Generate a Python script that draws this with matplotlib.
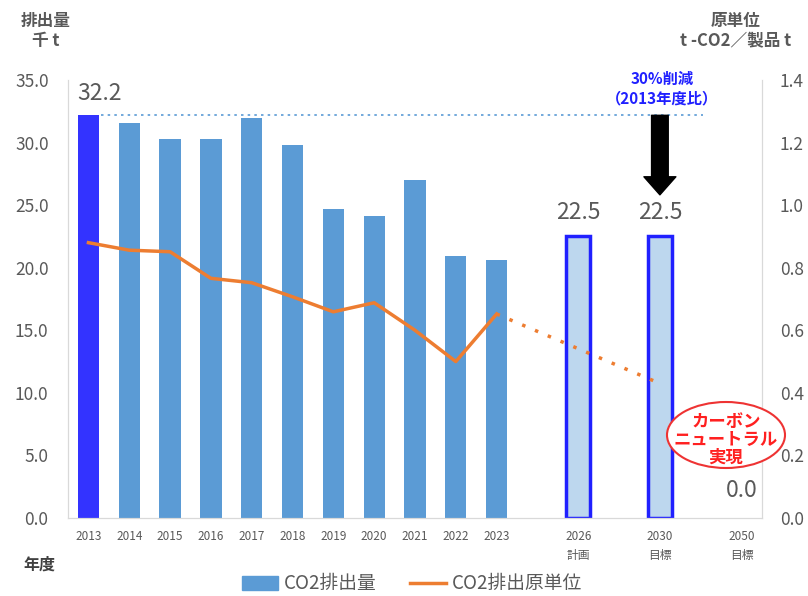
import matplotlib.pyplot as plt
from matplotlib.patches import Ellipse, Patch
from matplotlib.lines import Line2D

plt.rcParams['font.family'] = ['Noto Sans CJK JP', 'DejaVu Sans']

# ---------------------------------------------------------------------
# Data
# ---------------------------------------------------------------------
years = ["2013", "2014", "2015", "2016", "2017", "2018", "2019",
         "2020", "2021", "2022", "2023", "2026\n計画", "2030\n目標", "2050\n目標"]
positions = [0, 1, 2, 3, 4, 5, 6, 7, 8, 9, 10, 12, 14, 16]

emissions = [32.2, 31.6, 30.3, 30.3, 32.0, 29.8, 24.7, 24.1, 27.0, 20.9, 20.6]
target_pos = [12, 14]
target_emissions = [22.5, 22.5]
final_pos = 16
final_emission = 0.0

intensity = [0.88, 0.856, 0.851, 0.766, 0.752, 0.707, 0.659, 0.688, 0.60, 0.50, 0.652]
forecast_pos = [10, 14]
forecast_intensity = [0.652, 0.43]

left_ticks = [0, 5, 10, 15, 20, 25, 30, 35]
right_ticks = [0, 0.2, 0.4, 0.6, 0.8, 1.0, 1.2, 1.4]

grey = "#595959"

# ---------------------------------------------------------------------
# Plot
# ---------------------------------------------------------------------
fig = plt.figure(figsize=(8.08, 5.96), dpi=100)
ax = fig.add_axes([0.0842, 0.1309, 0.8588, 0.7349])
ax2 = ax.twinx()

colors = ["#3333ff"] + ["#5b9bd5"] * (len(emissions) - 1)
ax.bar(positions[:len(emissions)], emissions, width=0.52, color=colors, zorder=2)
ax.bar(target_pos, target_emissions, width=0.58, color="#bdd7ee",
       edgecolor="#2020ff", linewidth=2.5, zorder=2)

# reference line at 2013 level
ax.plot([0.3, 15.05], [emissions[0], emissions[0]], linestyle=(0, (1.5, 2.5)),
        color="#5b9bd5", linewidth=1.2, zorder=1)

ax.text(0.27, 33.0, f"{emissions[0]:.1f}", ha="center", va="bottom", fontsize=16.5, color=grey)
for p, v in zip(target_pos, target_emissions):
    ax.text(p, v + 1.0, f"{v:.1f}", ha="center", va="bottom", fontsize=16.5, color=grey)
ax.text(final_pos, final_emission + 2.2, f"{final_emission:.1f}", ha="center", va="center",
        fontsize=16.5, color=grey, zorder=7)

ax2.plot(positions[:len(intensity)], intensity, color="#ed7d31", linewidth=2.5, zorder=3)
ax2.plot(forecast_pos, forecast_intensity, color="#ed7d31", linewidth=2.5,
         linestyle=(0, (1, 3)), zorder=3)

ax.set_xlim(-0.5, 16.5)
ax.set_ylim(0, 35)
ax2.set_ylim(0, 1.4)
ax.set_yticks(left_ticks)
ax.set_yticklabels([f"{v:.1f}" for v in left_ticks])
ax2.set_yticks(right_ticks)
ax2.set_yticklabels([f"{v:.1f}" for v in right_ticks])
ax.set_xticks(positions)
ax.set_xticklabels(years, fontsize=8.5, color=grey, linespacing=1.6)

ax.tick_params(axis="y", length=0, labelsize=12.5, labelcolor=grey, pad=14)
ax2.tick_params(axis="y", length=0, labelsize=12.5, labelcolor=grey, pad=13)
ax.tick_params(axis="x", length=0, pad=9)

for a in (ax, ax2):
    a.spines["top"].set_visible(False)
    for s in ("left", "right", "bottom"):
        a.spines[s].set_color("#d9d9d9")

# arrow and reduction note
ax.annotate("", xy=(14, 25.6), xytext=(14, 32.4),
            arrowprops=dict(arrowstyle="simple,head_width=2.3,head_length=1.3,tail_width=1.2",
                            color="black"), zorder=4)
fig.text(662 / 808, 1 - 89 / 596, "30%削減\n（2013年度比）", ha="center", va="center",
         color="#2020ff", fontsize=11, fontweight="bold", linespacing=1.25)

# carbon neutral ellipse
ell = Ellipse((726 / 808, 1 - 435 / 596), 118 / 808, 66 / 596, transform=fig.transFigure,
              facecolor="white", edgecolor="#ee3333", linewidth=1.5, zorder=5)
fig.add_artist(ell)
fig.text(726 / 808, 1 - 440 / 596, "カーボン\nニュートラル\n実現", ha="center", va="center",
         color="#ff2020", fontsize=12.5, fontweight="bold", linespacing=1.0, zorder=6)

# axis titles
fig.text(46 / 808, 1 - 31 / 596, "排出量\n千 t", ha="center", va="center",
         color=grey, fontsize=12, fontweight="bold", linespacing=1.2)
fig.text(736 / 808, 1 - 31 / 596, "原単位\nt -CO2／製品 t", ha="center", va="center",
         color=grey, fontsize=12, fontweight="bold", linespacing=1.2)
fig.text(39 / 808, 1 - 565 / 596, "年度", ha="center", va="center",
         color="#404040", fontsize=11.5, fontweight="bold")

handles = [Patch(color="#5b9bd5"), Line2D([], [], color="#ed7d31", linewidth=2.5)]
fig.legend(handles, ["CO2排出量", "CO2排出原単位"], loc="center",
           bbox_to_anchor=(0.51, 1 - 584 / 596), ncol=2, frameon=False,
           fontsize=13.5, labelcolor=grey, handlelength=1.9, handletextpad=0.3,
           columnspacing=1.8)

fig.savefig("out.png", dpi=100)
